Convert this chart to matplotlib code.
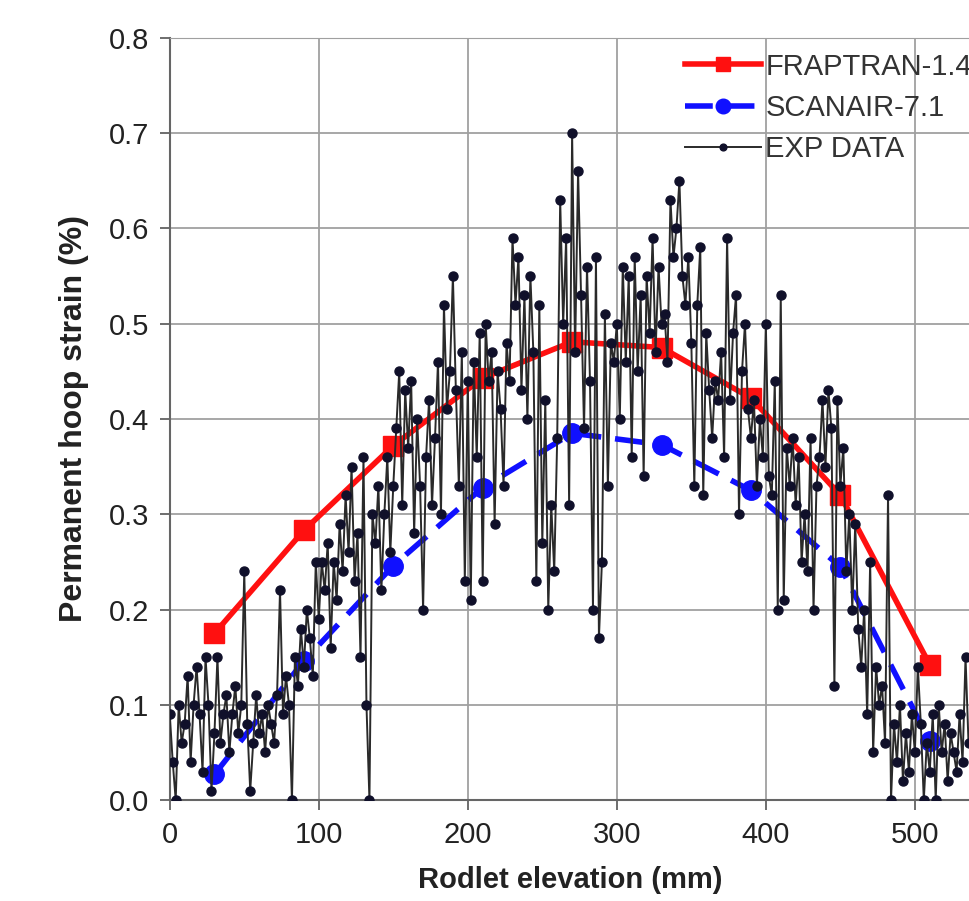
import numpy as np
import matplotlib
matplotlib.use('Agg')
import matplotlib.pyplot as plt

plt.rcParams['font.family'] = ['Liberation Sans', 'DejaVu Sans']

# model results (rodlet elevation, mm)
model_x = [30, 90, 150, 210, 270, 330, 390, 450, 510]
fraptran = [0.175, 0.283, 0.372, 0.443, 0.481, 0.475, 0.422, 0.320, 0.142]
scanair = [0.027, 0.146, 0.246, 0.328, 0.385, 0.373, 0.325, 0.245, 0.062]

# measured profile, sampled every 2 mm from 0 to 536 mm
exp_x = np.arange(0, 537, 2)
exp_y = [
    0.09, 0.04, 0.00, 0.10, 0.06, 0.08, 0.13, 0.04, 0.10, 0.14,
    0.09, 0.03, 0.15, 0.10, 0.01, 0.07, 0.15, 0.06, 0.09, 0.11,
    0.05, 0.09, 0.12, 0.07, 0.10, 0.24, 0.08, 0.01, 0.06, 0.11,
    0.07, 0.09, 0.05, 0.10, 0.08, 0.06, 0.11, 0.22, 0.09, 0.13,
    0.10, 0.00, 0.15, 0.12, 0.18, 0.14, 0.20, 0.17, 0.13, 0.25,
    0.19, 0.25, 0.22, 0.27, 0.16, 0.25, 0.21, 0.29, 0.24, 0.32,
    0.26, 0.35, 0.23, 0.28, 0.15, 0.36, 0.10, 0.00, 0.30, 0.27,
    0.33, 0.22, 0.30, 0.36, 0.26, 0.33, 0.39, 0.45, 0.31, 0.43,
    0.37, 0.44, 0.28, 0.40, 0.33, 0.20, 0.36, 0.42, 0.31, 0.38,
    0.46, 0.30, 0.52, 0.41, 0.45, 0.55, 0.43, 0.33, 0.47, 0.23,
    0.44, 0.21, 0.46, 0.36, 0.49, 0.23, 0.50, 0.44, 0.47, 0.29,
    0.45, 0.41, 0.33, 0.48, 0.44, 0.59, 0.52, 0.57, 0.43, 0.53,
    0.40, 0.55, 0.47, 0.23, 0.52, 0.27, 0.42, 0.20, 0.31, 0.24,
    0.38, 0.63, 0.50, 0.59, 0.31, 0.70, 0.47, 0.66, 0.53, 0.39,
    0.56, 0.44, 0.20, 0.57, 0.17, 0.25, 0.51, 0.33, 0.48, 0.46,
    0.50, 0.40, 0.56, 0.46, 0.55, 0.36, 0.57, 0.45, 0.53, 0.34,
    0.55, 0.49, 0.59, 0.47, 0.56, 0.50, 0.51, 0.46, 0.63, 0.57,
    0.60, 0.65, 0.55, 0.52, 0.57, 0.48, 0.33, 0.52, 0.58, 0.32,
    0.49, 0.43, 0.38, 0.44, 0.42, 0.47, 0.36, 0.59, 0.42, 0.49,
    0.53, 0.30, 0.45, 0.50, 0.41, 0.38, 0.42, 0.33, 0.40, 0.36,
    0.50, 0.34, 0.32, 0.44, 0.20, 0.53, 0.21, 0.37, 0.33, 0.38,
    0.31, 0.36, 0.25, 0.30, 0.24, 0.38, 0.20, 0.33, 0.36, 0.42,
    0.35, 0.43, 0.39, 0.12, 0.42, 0.33, 0.37, 0.24, 0.30, 0.20,
    0.29, 0.18, 0.14, 0.20, 0.09, 0.25, 0.05, 0.14, 0.10, 0.12,
    0.06, 0.32, 0.00, 0.08, 0.04, 0.10, 0.02, 0.07, 0.03, 0.09,
    0.05, 0.14, 0.08, 0.00, 0.06, 0.03, 0.09, 0.00, 0.10, 0.05,
    0.08, 0.02, 0.07, 0.05, 0.03, 0.09, 0.04, 0.15, 0.06,
]

x_ticks = [0, 100, 200, 300, 400, 500]
y_ticks = [0.0, 0.1, 0.2, 0.3, 0.4, 0.5, 0.6, 0.7, 0.8]

fig = plt.figure(figsize=(9.7, 9.01), dpi=100)
ax = fig.add_axes([0.175, 0.112, 0.825, 0.846])

ax.plot(model_x, fraptran, color='#ff1010', lw=4, marker='s', ms=14,
        label='FRAPTRAN-1.4', zorder=3)
ax.plot(model_x, scanair, color='#1010ff', lw=4, ls=(0, (5, 2.5)), marker='o', ms=14,
        label='SCANAIR-7.1', zorder=3)
ax.plot(exp_x, exp_y, color='#2a2a2a', lw=1.4, marker='o', ms=6.5,
        mfc='#10102a', mec='#10102a', label='EXP DATA', zorder=4)

ax.set_xlim(0, 537)
ax.set_ylim(0, 0.8)
ax.set_xticks(x_ticks)
ax.set_yticks(y_ticks)
ax.set_yticklabels(['%.1f' % v for v in y_ticks])
ax.tick_params(labelsize=21, length=7, width=1.2, pad=8, colors='#555555', labelcolor='#222222')
ax.grid(True, color='#a0a0a0', lw=1.3)
ax.set_axisbelow(True)

for side in ['left', 'bottom']:
    ax.spines[side].set_color('#666666')
    ax.spines[side].set_linewidth(1.5)
ax.spines['top'].set_color('#a0a0a0')
ax.spines['right'].set_visible(False)

ax.set_xlabel('Rodlet elevation (mm)', fontsize=21, fontweight='bold', color='#222222', labelpad=12)
ax.set_ylabel('Permanent hoop strain (%)', fontsize=23, fontweight='bold', color='#222222', labelpad=14)

leg = ax.legend(loc='upper right', bbox_to_anchor=(1.035, 1.015), frameon=False, fontsize=21,
                handlelength=2.6, handletextpad=0.15, labelspacing=0.45, markerscale=0.75)
for t in leg.get_texts():
    t.set_color('#333333')

fig.savefig('out.png', dpi=100)
